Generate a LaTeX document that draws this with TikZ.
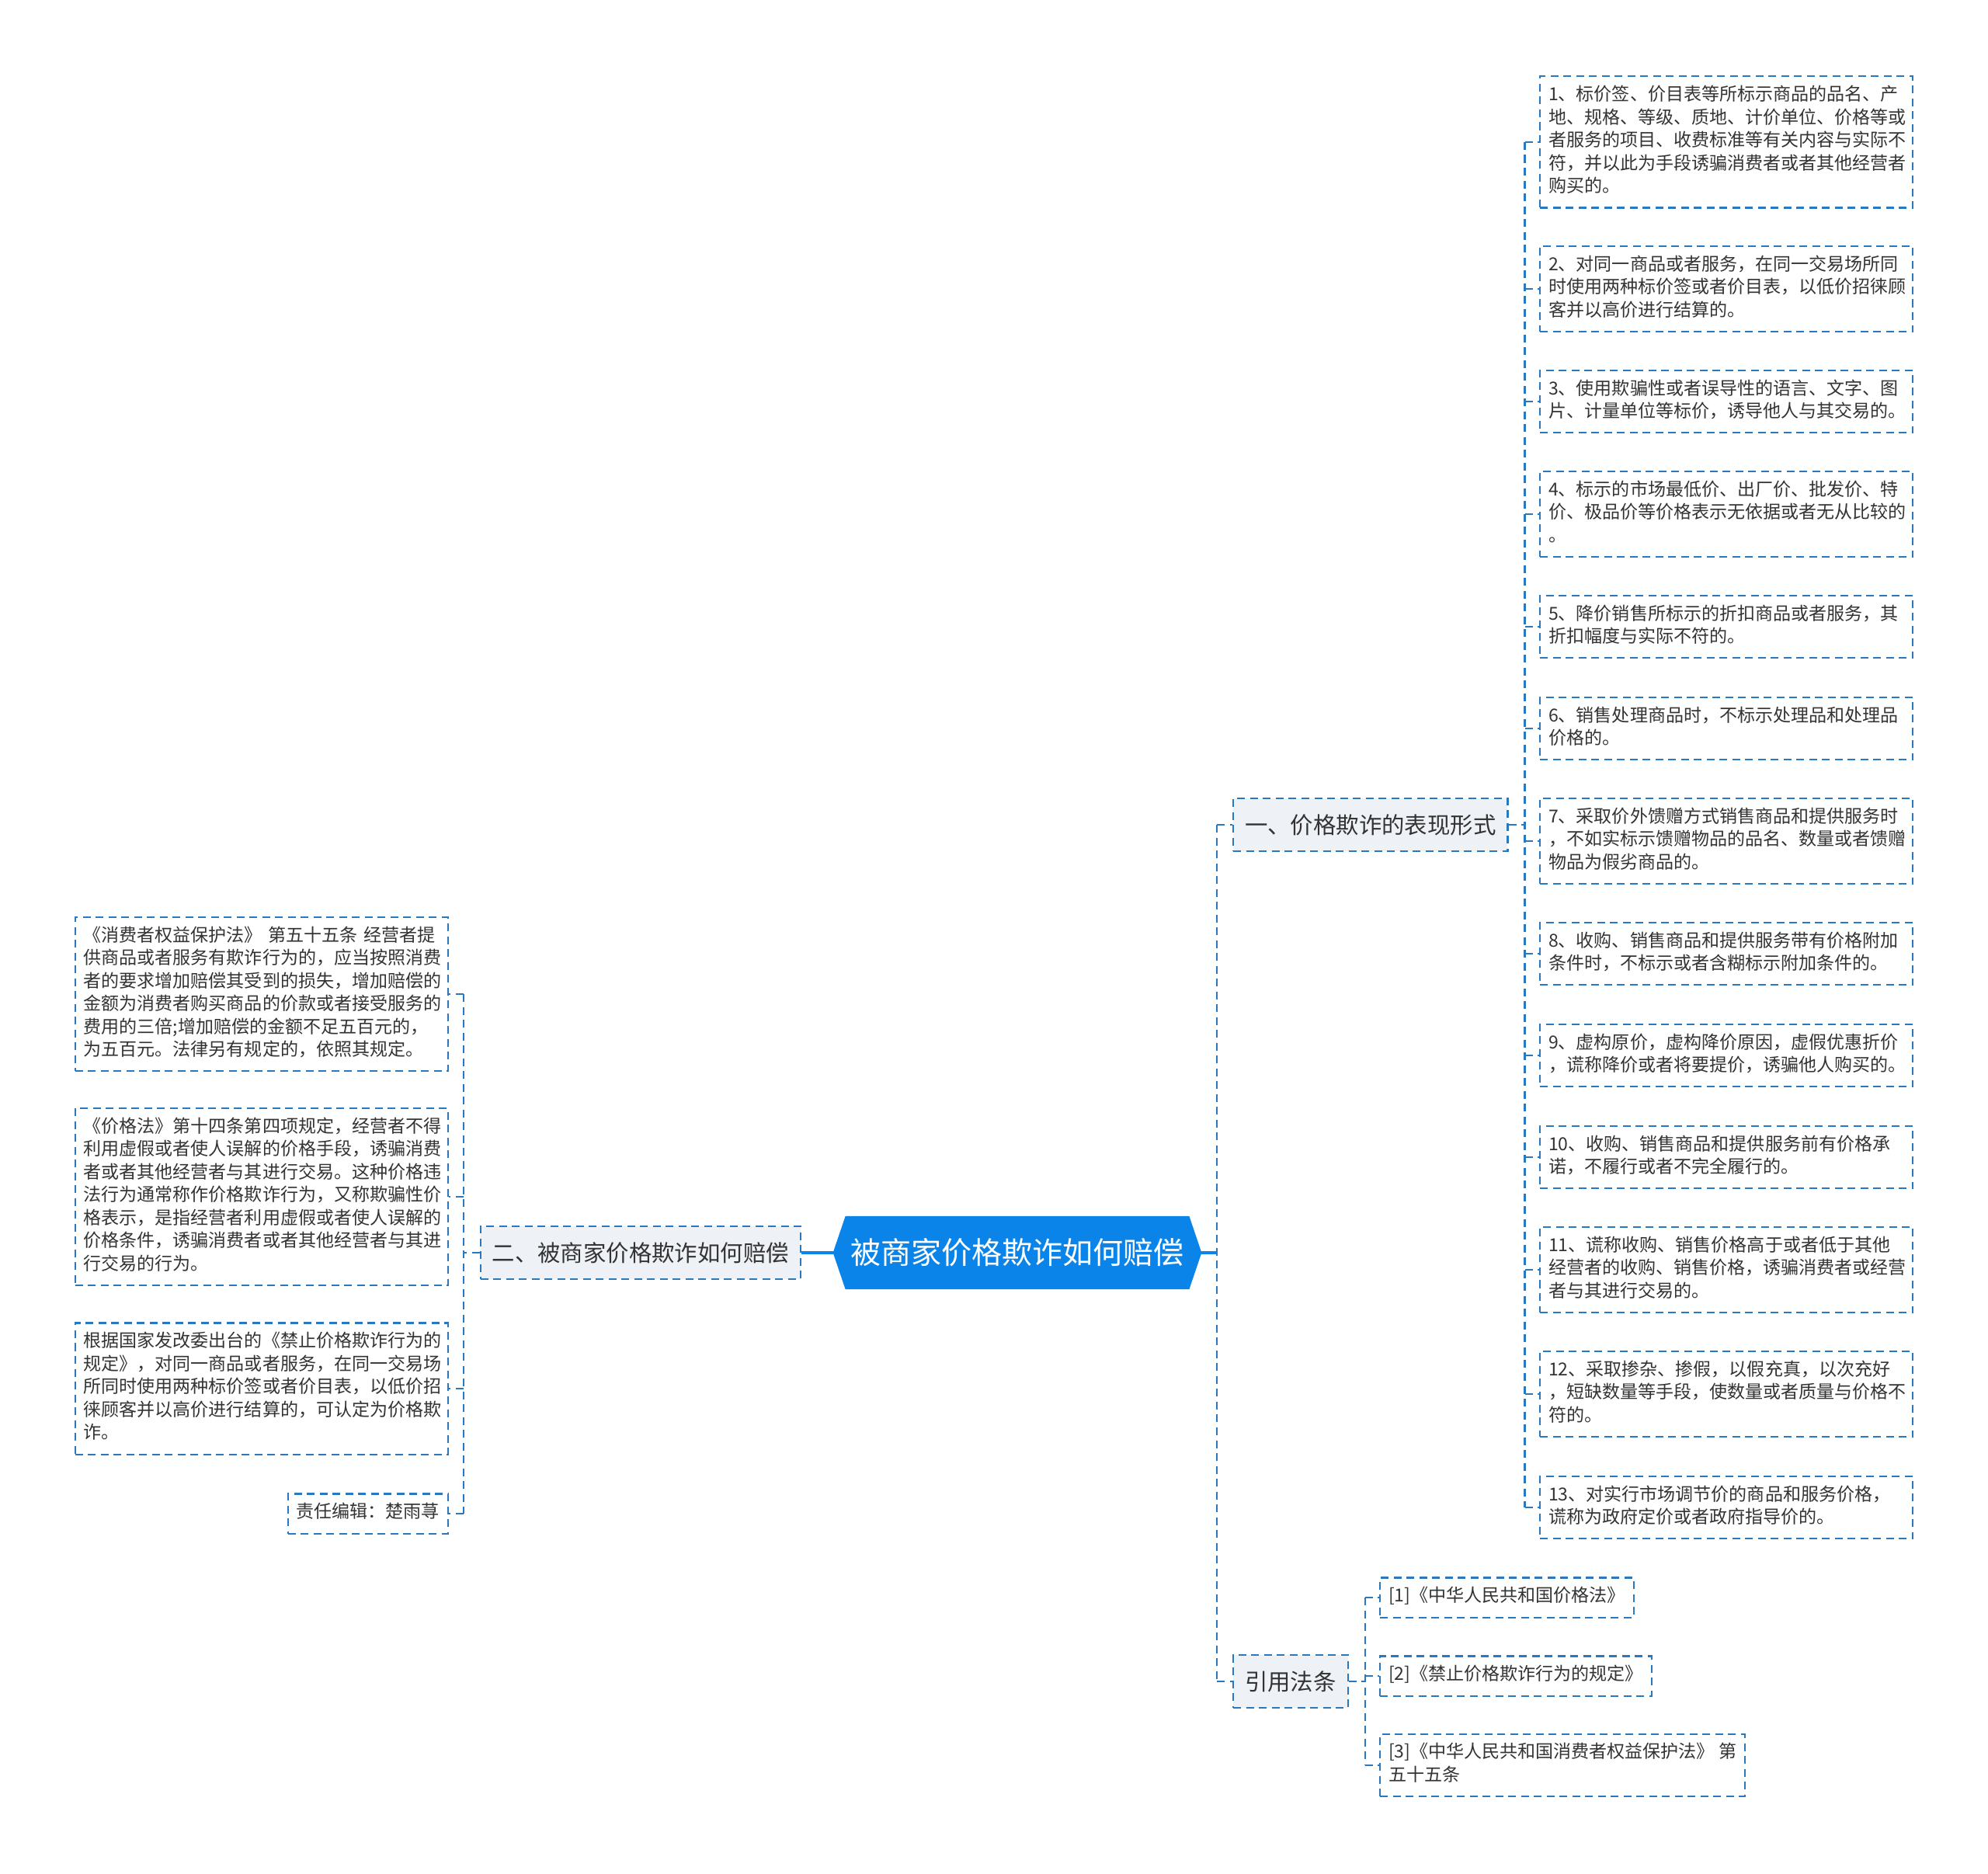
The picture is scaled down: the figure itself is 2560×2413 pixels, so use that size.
\documentclass[tikz,border=0pt]{standalone}
\usepackage{fontspec}
\setmainfont{Noto Sans CJK SC}
\usepackage{xcolor}
\usetikzlibrary{positioning,backgrounds}
\definecolor{shutublue}{HTML}{0A84E9}
\definecolor{shutuline}{HTML}{2A78BE}
\definecolor{shutufill}{HTML}{EEF1F6}
\definecolor{shututext}{HTML}{333333}
\newcommand{\leaffont}{\fontsize{6.55pt}{8.39pt}\selectfont}
\newcommand{\branchfont}{\fontsize{8.36pt}{10pt}\selectfont}
\newcommand{\rootfont}{\fontsize{11.1pt}{13pt}\selectfont}
\tikzset{
  rootnode/.style={rectangle, text=white, font=\rootfont, minimum width=4.41cm, minimum height=0.93cm, inner sep=0pt},
  dashbox/.style={draw=shutuline, line width=0.6pt, dash pattern=on 0.1cm off 0.065cm},
  branch/.style={rectangle, dashbox, fill=shutufill, text=shututext, font=\branchfont, minimum height=0.68cm, inner xsep=0.15cm},
  refbox/.style={rectangle, dashbox, align=left, inner xsep=0.11cm, inner ysep=3.07pt, font=\leaffont, text=shututext, execute at begin node=\strut, execute at end node=\strut},
  leaf/.style={refbox, text width=4.58cm},
  link/.style={dashbox},
  rootlink/.style={draw=shutublue, line width=0.9pt},
}
\begin{document}
\begin{tikzpicture}[x=0.01cm, y=-0.01cm]
  \useasboundingbox (0,0) rectangle (2560,2413);
  \node[rootnode] (root) at (1310,1613) {被商家价格欺诈如何赔偿};
  \coordinate (rootE) at ([xshift=0.16cm]root.east);
  \coordinate (rootW) at ([xshift=-0.16cm]root.west);
  \begin{scope}[on background layer]
    \fill[shutublue] (root.north west) -- (root.north east) -- (rootE) -- (root.south east) -- (root.south west) -- (rootW) -- cycle;
  \end{scope}
  \node[branch, anchor=west] (form) at (1587,1062) {一、价格欺诈的表现形式};
  \node[branch, anchor=east] (comp) at (1032,1613) {二、被商家价格欺诈如何赔偿};
  \node[branch, anchor=west] (laws) at (1587,2165) {引用法条};
  % forms of price fraud
  \node[leaf, anchor=west] (f1) at (1982,183) {1、标价签、价目表等所标示商品的品名、产\\地、规格、等级、质地、计价单位、价格等或\\者服务的项目、收费标准等有关内容与实际不\\符，并以此为手段诱骗消费者或者其他经营者\\购买的。};
  \node[leaf, anchor=west] (f2) at (1982,372) {2、对同一商品或者服务，在同一交易场所同\\时使用两种标价签或者价目表，以低价招徕顾\\客并以高价进行结算的。};
  \node[leaf, anchor=west] (f3) at (1982,517) {3、使用欺骗性或者误导性的语言、文字、图\\片、计量单位等标价，诱导他人与其交易的。};
  \node[leaf, anchor=west] (f4) at (1982,662) {4、标示的市场最低价、出厂价、批发价、特\\价、极品价等价格表示无依据或者无从比较的\\。};
  \node[leaf, anchor=west] (f5) at (1982,807) {5、降价销售所标示的折扣商品或者服务，其\\折扣幅度与实际不符的。};
  \node[leaf, anchor=west] (f6) at (1982,938) {6、销售处理商品时，不标示处理品和处理品\\价格的。};
  \node[leaf, anchor=west] (f7) at (1982,1083) {7、采取价外馈赠方式销售商品和提供服务时\\，不如实标示馈赠物品的品名、数量或者馈赠\\物品为假劣商品的。};
  \node[leaf, anchor=west] (f8) at (1982,1228) {8、收购、销售商品和提供服务带有价格附加\\条件时，不标示或者含糊标示附加条件的。};
  \node[leaf, anchor=west] (f9) at (1982,1359) {9、虚构原价，虚构降价原因，虚假优惠折价\\，谎称降价或者将要提价，诱骗他人购买的。};
  \node[leaf, anchor=west] (f10) at (1982,1490) {10、收购、销售商品和提供服务前有价格承\\诺，不履行或者不完全履行的。};
  \node[leaf, anchor=west] (f11) at (1982,1635) {11、谎称收购、销售价格高于或者低于其他\\经营者的收购、销售价格，诱骗消费者或经营\\者与其进行交易的。};
  \node[leaf, anchor=west] (f12) at (1982,1795) {12、采取掺杂、掺假，以假充真，以次充好\\，短缺数量等手段，使数量或者质量与价格不\\符的。};
  \node[leaf, anchor=west] (f13) at (1982,1941) {13、对实行市场调节价的商品和服务价格，\\谎称为政府定价或者政府指导价的。};
  % compensation
  \node[leaf, anchor=east] (c1) at (578,1280) {《消费者权益保护法》~第五十五条~经营者提\\供商品或者服务有欺诈行为的，应当按照消费\\者的要求增加赔偿其受到的损失，增加赔偿的\\金额为消费者购买商品的价款或者接受服务的\\费用的三倍;增加赔偿的金额不足五百元的，\\为五百元。法律另有规定的，依照其规定。};
  \node[leaf, anchor=east] (c2) at (578,1541) {《价格法》第十四条第四项规定，经营者不得\\利用虚假或者使人误解的价格手段，诱骗消费\\者或者其他经营者与其进行交易。这种价格违\\法行为通常称作价格欺诈行为，又称欺骗性价\\格表示，是指经营者利用虚假或者使人误解的\\价格条件，诱骗消费者或者其他经营者与其进\\行交易的行为。};
  \node[leaf, anchor=east] (c3) at (578,1788) {根据国家发改委出台的《禁止价格欺诈行为的\\规定》，对同一商品或者服务，在同一交易场\\所同时使用两种标价签或者价目表，以低价招\\徕顾客并以高价进行结算的，可认定为价格欺\\诈。};
  \node[refbox, anchor=east] (c4) at (578,1949) {责任编辑：楚雨荨};
  % cited laws
  \node[refbox, anchor=west] (l1) at (1776,2057) {[1]《中华人民共和国价格法》};
  \node[refbox, anchor=west] (l2) at (1776,2158) {[2]《禁止价格欺诈行为的规定》};
  \node[refbox, anchor=west] (l3) at (1776,2273) {[3]《中华人民共和国消费者权益保护法》~第\\五十五条};
  % trunks
  \coordinate (t0) at ([xshift=0.2cm]rootE);
  \coordinate (t1) at ([xshift=0.21cm]form.east);
  \coordinate (t2) at ([xshift=-0.21cm]comp.west);
  \coordinate (t3) at ([xshift=0.21cm]laws.east);
  \draw[rootlink] (rootE) -- (t0);
  \draw[rootlink] (rootW) -- (comp.east);
  \draw[link] (t0 |- form.west) -- (t0 |- laws.west);
  \draw[link] (t0 |- form.west) -- (form.west);
  \draw[link] (t0 |- laws.west) -- (laws.west);
  \draw[link] (form.east) -- (t1);
  \draw[link] (t1 |- f1.west) -- (t1 |- f13.west);
  \draw[link] (t1 |- f1.west) -- (f1.west);
  \draw[link] (t1 |- f2.west) -- (f2.west);
  \draw[link] (t1 |- f3.west) -- (f3.west);
  \draw[link] (t1 |- f4.west) -- (f4.west);
  \draw[link] (t1 |- f5.west) -- (f5.west);
  \draw[link] (t1 |- f6.west) -- (f6.west);
  \draw[link] (t1 |- f7.west) -- (f7.west);
  \draw[link] (t1 |- f8.west) -- (f8.west);
  \draw[link] (t1 |- f9.west) -- (f9.west);
  \draw[link] (t1 |- f10.west) -- (f10.west);
  \draw[link] (t1 |- f11.west) -- (f11.west);
  \draw[link] (t1 |- f12.west) -- (f12.west);
  \draw[link] (t1 |- f13.west) -- (f13.west);
  \draw[link] (comp.west) -- (t2);
  \draw[link] (t2 |- c1.east) -- (t2 |- c4.east);
  \draw[link] (t2 |- c1.east) -- (c1.east);
  \draw[link] (t2 |- c2.east) -- (c2.east);
  \draw[link] (t2 |- c3.east) -- (c3.east);
  \draw[link] (t2 |- c4.east) -- (c4.east);
  \draw[link] (laws.east) -- (t3);
  \draw[link] (t3 |- l1.west) -- (t3 |- l3.west);
  \draw[link] (t3 |- l1.west) -- (l1.west);
  \draw[link] (t3 |- l2.west) -- (l2.west);
  \draw[link] (t3 |- l3.west) -- (l3.west);
\end{tikzpicture}
\end{document}
